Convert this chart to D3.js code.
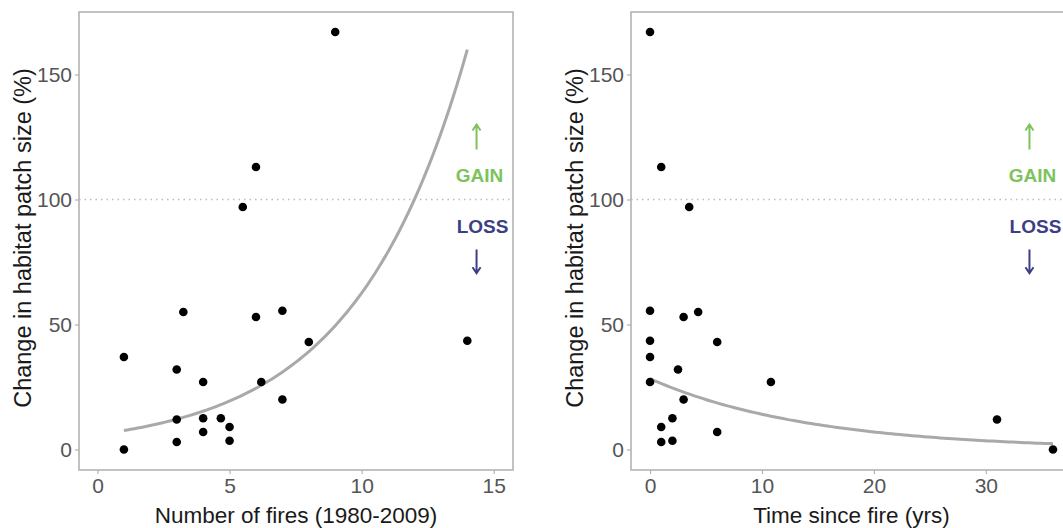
<!DOCTYPE html>
<html>
<head>
<meta charset="utf-8">
<script src="https://cdn.jsdelivr.net/npm/d3@7"></script>
<style>
  body { margin: 0; background: #fff; }
  svg { display: block; font-family: "Liberation Sans", Arial, sans-serif; }
</style>
</head>
<body>
<div id="chart"></div>
<script>
// Change in habitat patch size vs fire history

// Data: number of fires (1980-2009) vs change (%)
const firesX = [1, 1, 3, 3, 3, 3.25, 4, 4, 4, 4.67, 5, 5, 5.5, 6, 6, 6.2, 7, 7, 8, 9, 14];
const firesY = [0, 37, 32, 12, 3, 55, 27, 12.5, 7, 12.5, 9, 3.5, 97, 53, 113, 27, 55.5, 20, 43, 167, 43.5];

// Data: time since fire (yrs) vs change (%)
const timeX = [0, 0, 0, 0, 0, 1, 1, 1, 2, 2, 2.5, 3, 3, 3.5, 4.3, 6, 6, 10.8, 31, 36];
const timeY = [167, 55.5, 43.5, 37, 27, 113, 9, 3, 12.5, 3.5, 32, 53, 20, 97, 55, 43, 7, 27, 12, 0];

// exponential fits, y = a * exp(b * x)
const firesFit = { a: 6.0, b: 0.2345, from: 1, to: 14 };
const timeFit = { a: 28.3, b: -0.0697, from: 0, to: 36 };

const yTicks = [0, 50, 100, 150];
const firesTicks = [0, 5, 10, 15];
const timeTicks = [0, 10, 20, 30];

const refLine = 100;

const W = 1063, H = 528;
const svg = d3.select('#chart').append('svg')
    .attr('width', W)
    .attr('height', H);

const y = d3.scaleLinear().domain([-8.2, 175]).range([470, 12]);

function panel(opts) {
    const { x, xs, ys, fit, ticks, title, labX, annX } = opts;
    const g = svg.append('g');
    const [x0, x1] = x.range();

    // reference line
    g.append('line')
        .attr('x1', x0).attr('x2', x1)
        .attr('y1', y(refLine)).attr('y2', y(refLine))
        .attr('stroke', '#bdbdbd')
        .attr('stroke-width', 1.6)
        .attr('stroke-dasharray', '1.5,4');

    // fitted curve
    const pts = d3.range(0, 101).map(i => {
        const v = fit.from + (fit.to - fit.from) * i / 100;
        return [v, fit.a * Math.exp(fit.b * v)];
    });
    g.append('path')
        .datum(pts)
        .attr('fill', 'none')
        .attr('stroke', '#a9a9a9')
        .attr('stroke-width', 3)
        .attr('d', d3.line().x(d => x(d[0])).y(d => y(d[1])));

    // points
    g.selectAll('circle.pt')
        .data(xs.map((v, i) => [v, ys[i]]))
        .join('circle')
        .attr('class', 'pt')
        .attr('cx', d => x(d[0]))
        .attr('cy', d => y(d[1]))
        .attr('r', 4.3)
        .attr('fill', '#000');

    // panel border
    g.append('rect')
        .attr('x', x0).attr('y', 12)
        .attr('width', x1 - x0).attr('height', 458)
        .attr('fill', 'none')
        .attr('stroke', '#b3b3b3')
        .attr('stroke-width', 1.6);

    // axes
    const xAxis = g.append('g')
        .attr('transform', `translate(0, 470)`)
        .call(d3.axisBottom(x).tickValues(ticks).tickSize(4).tickPadding(4));
    const yAxis = g.append('g')
        .attr('transform', `translate(${x0}, 0)`)
        .call(d3.axisLeft(y).tickValues(yTicks).tickSize(4).tickPadding(3));
    [xAxis, yAxis].forEach(a => {
        a.select('.domain').remove();
        a.selectAll('line').attr('stroke', '#b3b3b3').attr('stroke-width', 1.2);
        a.selectAll('text')
            .attr('fill', '#555')
            .style('font-size', '21px')
            .style('font-family', '"Liberation Sans", Arial, sans-serif');
    });

    // titles
    g.append('text')
        .attr('x', (x0 + x1) / 2)
        .attr('y', 523)
        .attr('text-anchor', 'middle')
        .attr('fill', '#1a1a1a')
        .style('font-size', '22.5px')
        .text(title);
    g.append('text')
        .attr('transform', `translate(${labX}, 238) rotate(-90)`)
        .attr('text-anchor', 'middle')
        .attr('fill', '#1a1a1a')
        .style('font-size', '23.5px')
        .text('Change in habitat patch size (%)');

    // GAIN / LOSS annotation
    const ax = x(annX);
    const green = '#7cc35c', navy = '#3c3f85';
    g.append('path')
        .attr('d', `M${ax},${y(120)}V${y(130)}M${ax - 4},${y(130) + 6}L${ax},${y(130)}L${ax + 4},${y(130) + 6}`)
        .attr('fill', 'none')
        .attr('stroke', green)
        .attr('stroke-width', 2);
    g.append('text')
        .attr('x', ax + 3).attr('y', y(107))
        .attr('text-anchor', 'middle')
        .attr('fill', green)
        .style('font-size', '19px')
        .style('font-weight', 'bold')
        .text('GAIN');
    g.append('text')
        .attr('x', ax + 6).attr('y', y(86.8))
        .attr('text-anchor', 'middle')
        .attr('fill', navy)
        .style('font-size', '19px')
        .style('font-weight', 'bold')
        .text('LOSS');
    g.append('path')
        .attr('d', `M${ax},${y(80)}V${y(70.5)}M${ax - 4},${y(70.5) - 6}L${ax},${y(70.5)}L${ax + 4},${y(70.5) - 6}`)
        .attr('fill', 'none')
        .attr('stroke', navy)
        .attr('stroke-width', 2);
}

panel({
    x: d3.scaleLinear().domain([-0.7, 15.73]).range([79, 513]),
    xs: firesX, ys: firesY, fit: firesFit, ticks: firesTicks,
    title: 'Number of fires (1980-2009)', labX: 31, annX: 14.35
});

panel({
    x: d3.scaleLinear().domain([-1.7, 37.7]).range([631, 1072]),
    xs: timeX, ys: timeY, fit: timeFit, ticks: timeTicks,
    title: 'Time since fire (yrs)', labX: 583, annX: 33.9
});
</script>
</body>
</html>
